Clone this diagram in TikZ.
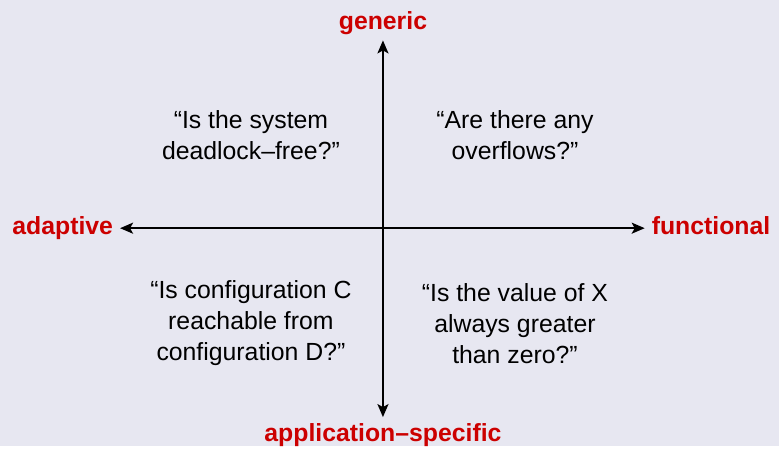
\documentclass[tikz,border=0pt]{standalone}
\usepackage{fontspec}
\setmainfont{Liberation Sans}
\usetikzlibrary{arrows.meta}
\definecolor{slidebg}{RGB}{231,231,241}
\definecolor{alertred}{RGB}{204,0,0}

\begin{document}
\begin{tikzpicture}[>={Stealth[length=6.5pt,width=5.5pt,inset=1.5pt]},
    every node/.style={font=\fontsize{12.4}{15.5}\selectfont},
    axislabel/.style={color=alertred, font=\fontsize{12.4}{15.5}\selectfont\bfseries,
        text height=1.6ex, text depth=.4ex},
    question/.style={align=center}]
    \fill[slidebg] (-6.73,-3.83) rectangle (6.96,4.01);
    \coordinate (west) at (-4.62,0);
    \coordinate (east) at (4.60,0);
    \coordinate (north) at (0,3.30);
    \coordinate (south) at (0,-3.32);
    \draw[<->, line width=1pt] (west) -- (east);
    \draw[<->, line width=1pt] (south) -- (north);
    \node[axislabel, left] (adaptive) at (west) {adaptive};
    \node[axislabel, right] (functional) at (east) {functional};
    \node[axislabel, above] (generic) at (north) {generic};
    \node[axislabel, below] (specific) at (south) {application--specific};
    \node[question] (deadlock) at (-2.32,1.63) {“Is the system\\deadlock--free?”};
    \node[question] (overflow) at (2.32,1.63) {“Are there any\\overflows?”};
    \node[question] (reach) at (-2.32,-1.67) {“Is configuration C\\reachable from\\configuration D?”};
    \node[question] (value) at (2.32,-1.67) {“Is the value of X\\always greater\\than zero?”};
\end{tikzpicture}
\end{document}
